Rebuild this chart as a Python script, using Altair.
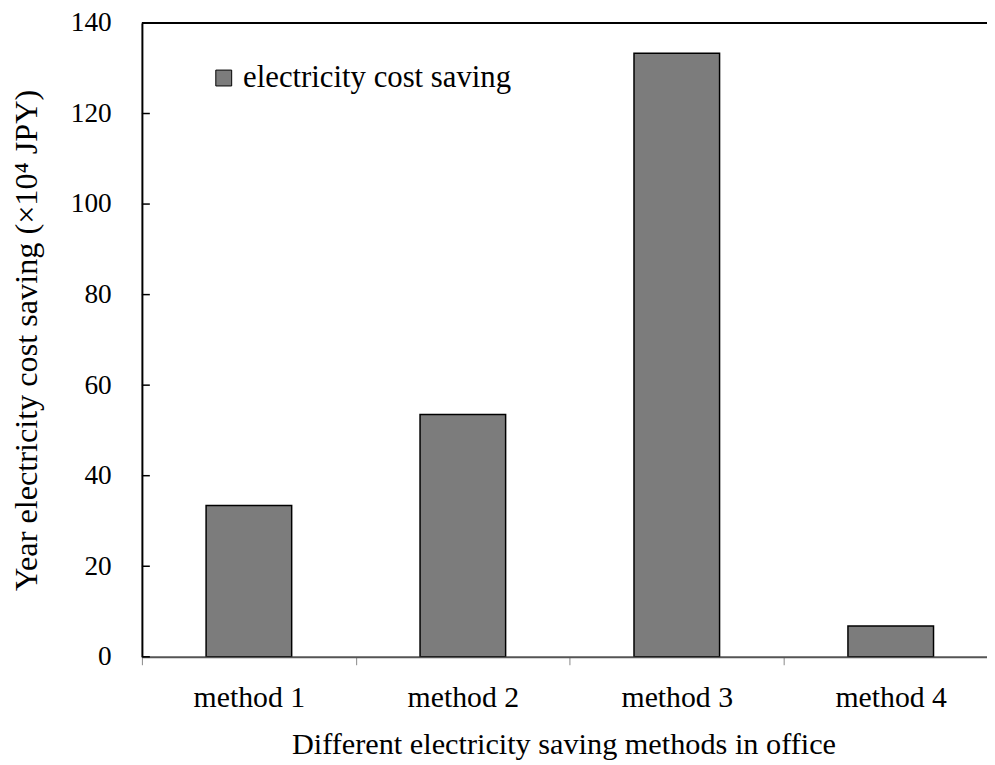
import altair as alt
import pandas as pd

methods = ["method 1", "method 2", "method 3", "method 4"]
savings = [33.4, 53.5, 133.3, 6.8]
series_name = "electricity cost saving"
y_ticks = [0, 20, 40, 60, 80, 100, 120, 140]

df = pd.DataFrame({"method": methods, "saving": savings, "series": [series_name] * len(methods)})
tick_df = pd.DataFrame({"tick": y_ticks})
frame_df = pd.DataFrame({"k": [0]})

FONT = "Liberation Serif"
BAND = 215.7
FULL = BAND * len(methods)
Y_TITLE = "Year electricity cost saving (×10⁴ JPY)"

x_scale = alt.Scale(domain=methods, range=[0, FULL], paddingInner=0, paddingOuter=0)
y_scale = alt.Scale(domain=[0, 140], nice=False)


def y_axis():
    return alt.Axis(
        values=y_ticks, tickSize=0, labelPadding=31, domainColor="black",
        domainWidth=2, grid=False, labelFontSize=27.5, titleFontSize=32.5,
        title=Y_TITLE, titlePadding=27,
    )


bars = alt.Chart(df).mark_bar(
    width=alt.RelativeBandSize(0.4), stroke="black", strokeWidth=1.5, clip=True
).encode(
    x=alt.X(
        "method:N", scale=x_scale, sort=methods,
        axis=alt.Axis(
            title="Different electricity saving methods in office",
            labelAngle=0, tickBand="extent", tickSize=8, tickColor="#888", tickWidth=1,
            domainColor="#555", domainWidth=2, labelPadding=18,
            labelFontSize=30, titleFontSize=30.5,
            titleX=425, titleY=74, titleBaseline="top",
        ),
    ),
    y=alt.Y("saving:Q", scale=y_scale, axis=y_axis(), title=Y_TITLE),
    color=alt.Color(
        "series:N", scale=alt.Scale(range=["#7c7c7c"]),
        legend=alt.Legend(
            title=None, orient="none", legendX=67, legendY=40,
            symbolType="square", symbolSize=256, symbolStrokeColor="black",
            symbolStrokeWidth=1, symbolOpacity=1, labelOffset=4, padding=0,
        ),
    ),
)

yticks = alt.Chart(tick_df).mark_rule(color="black", strokeWidth=1.5).encode(
    y=alt.Y("tick:Q", scale=y_scale, axis=y_axis(), title=Y_TITLE),
    x=alt.value(0),
    x2=alt.value(8),
)

top_line = alt.Chart(frame_df).mark_rule(color="black", strokeWidth=2).encode(
    x=alt.value(0), x2=alt.value(FULL), y=alt.value(0)
)

chart = alt.layer(bars, yticks, top_line).properties(
    width=852, height=639,
    autosize=alt.AutoSizeParams(type="none"),
    padding={"left": 135, "top": 12, "right": 0, "bottom": 106},
    background="white",
).configure_view(stroke=None).configure_axis(
    labelFont=FONT, titleFont=FONT,
    labelColor="black", titleColor="black", titleFontWeight="normal",
).configure_legend(
    labelFont=FONT, labelFontSize=31, labelColor="black", labelLimit=0,
)

chart.save("out.html", embed_options={"renderer": "svg", "actions": False})
